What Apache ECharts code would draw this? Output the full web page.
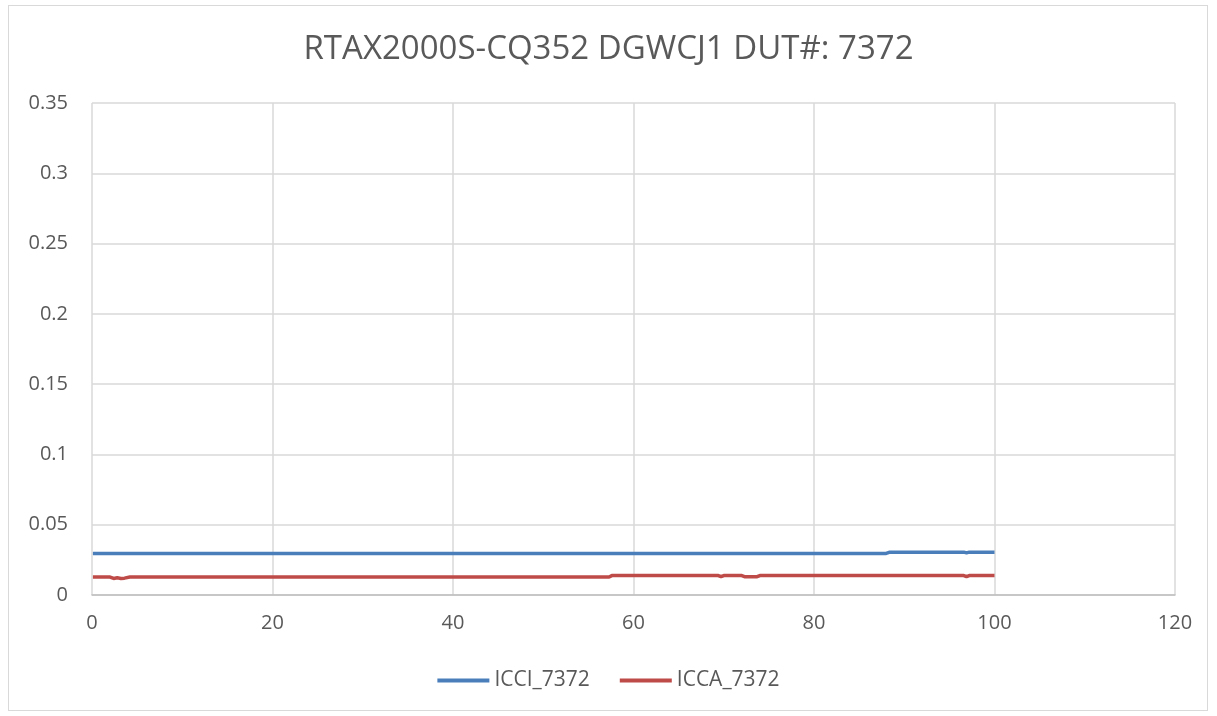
<!DOCTYPE html>
<html><head><meta charset="utf-8">
<script src="https://cdn.jsdelivr.net/npm/echarts@6/dist/echarts.min.js"></script>
<style>
html,body{margin:0;padding:0;background:#fff;}
#frame{position:absolute;left:8px;top:5px;width:1200px;height:706px;border:1px solid #d9d9d9;box-sizing:border-box;}
#c{position:absolute;left:0;top:0;width:1217px;height:716px;}
</style></head>
<body>
<div id="frame"></div>
<div id="c"></div>
<script>
const title = 'RTAX2000S-CQ352 DGWCJ1 DUT#: 7372';
const seriesNames = ['ICCI_7372', 'ICCA_7372'];
const xValues = [0.1, 2.0, 2.4, 2.8, 3.2, 3.6, 4.2, 10, 20, 30, 40, 50, 57.3, 57.6, 60, 69.4, 69.7, 70.0, 72.0, 72.3, 73.7, 74.0, 80, 88.0, 88.4, 96.6, 96.9, 97.2, 100];
const icciValues = [0.0296, 0.0296, 0.0296, 0.0296, 0.0296, 0.0296, 0.0296, 0.0296, 0.0296, 0.0296, 0.0296, 0.0296, 0.0296, 0.0296, 0.0296, 0.0296, 0.0296, 0.0296, 0.0296, 0.0296, 0.0296, 0.0296, 0.0296, 0.0296, 0.0305, 0.0305, 0.0300, 0.0305, 0.0305];
const iccaValues = [0.0128, 0.0128, 0.0118, 0.0122, 0.0118, 0.0120, 0.0128, 0.0128, 0.0128, 0.0128, 0.0128, 0.0128, 0.0128, 0.0138, 0.0138, 0.0138, 0.0130, 0.0138, 0.0138, 0.0130, 0.0130, 0.0138, 0.0138, 0.0138, 0.0138, 0.0138, 0.0130, 0.0138, 0.0138];
const yTicks = ['0', '0.05', '0.1', '0.15', '0.2', '0.25', '0.3', '0.35'];

const chart = echarts.init(document.getElementById('c'));
const font = 'Open Sans';
const txt = '#595959';
chart.setOption({
  animation: false,
  title: { text: title, left: 'center', top: 28, textStyle: { fontFamily: font, fontSize: 33, fontWeight: 'normal', color: txt } },
  legend: {
    bottom: 20, left: 'center', itemWidth: 52, itemHeight: 4, itemGap: 30, icon: 'rect',
    textStyle: { fontFamily: font, fontSize: 21, color: txt },
    data: seriesNames
  },
  grid: { left: 92, right: 42, top: 103, bottom: 121 },
  xAxis: {
    type: 'value', min: 0, max: 120, interval: 20,
    axisLine: { lineStyle: { color: '#bfbfbf', width: 1.5 } },
    axisTick: { show: false },
    axisLabel: { fontFamily: font, fontSize: 20, color: txt, margin: 18 },
    splitLine: { show: true, lineStyle: { color: '#d9d9d9', width: 1.5 } }
  },
  yAxis: {
    type: 'value', min: 0, max: 0.35, interval: 0.05,
    axisLine: { show: false }, axisTick: { show: false },
    axisLabel: { fontFamily: font, fontSize: 20, color: txt, margin: 24, formatter: (v, i) => yTicks[i] },
    splitLine: { show: true, lineStyle: { color: '#d9d9d9', width: 1.5 } }
  },
  series: [
    { name: seriesNames[0], type: 'line', symbol: 'none', data: xValues.map((x, i) => [x, icciValues[i]]),
      lineStyle: { color: '#4a7ebb', width: 3.5 }, itemStyle: { color: '#4a7ebb' } },
    { name: seriesNames[1], type: 'line', symbol: 'none', data: xValues.map((x, i) => [x, iccaValues[i]]),
      lineStyle: { color: '#be4b48', width: 3.5 }, itemStyle: { color: '#be4b48' } }
  ]
});
</script>
</body></html>
